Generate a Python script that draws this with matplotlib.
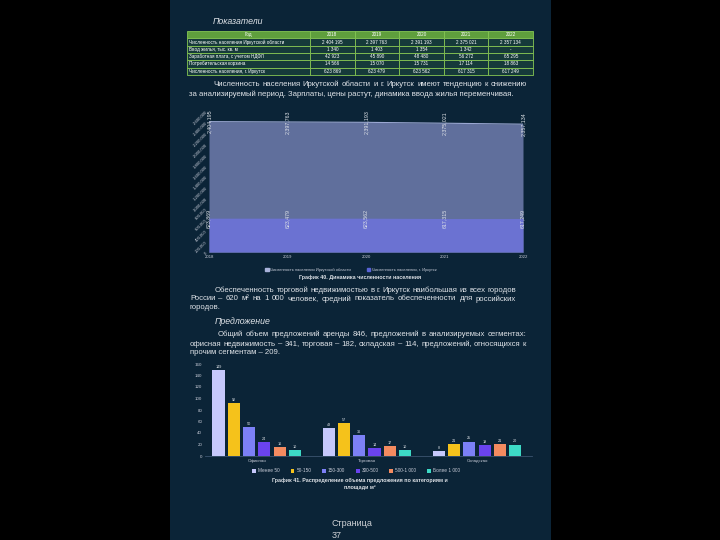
import matplotlib
matplotlib.use('Agg')
import matplotlib.pyplot as plt
from matplotlib.patches import Rectangle, Patch
from matplotlib.table import Table

plt.rcParams['font.family'] = ['Liberation Sans', 'DejaVu Sans']

# ---- data ----
years = ['2018', '2019', '2020', '2021', '2022']
row_labels = ['Численность населения Иркутской области', 'Ввод жилья, тыс. кв. м',
              'Заработная плата, с учетом НДФЛ', 'Потребительская корзина',
              'Численность населения, г. Иркутск']
pop_region_row = ['2 404 195', '2 397 763', '2 391 193', '2 375 021', '2 357 134']
housing_row = ['1 340', '1 403', '1 354', '1 342', '-']
salary_row = ['42 923', '45 890', '48 480', '56 272', '65 295']
basket_row = ['14 566', '15 070', '15 731', '17 114', '18 863']
pop_city_row = ['623 869', '623 479', '623 562', '617 315', '617 249']

oblast_pop = [2404195, 2397763, 2391193, 2375021, 2357134]
city_pop = [623869, 623479, 623562, 617315, 617249]

segments = ['Офисная', 'Торговая', 'Складская']
size_groups = ['Менее 50', '50-150', '150-300', '300-500', '500-1 000', 'Более 1 000']
less_50 = [149, 48, 8]
s50_150 = [92, 57, 21]
s150_300 = [50, 36, 25]
s300_500 = [24, 14, 19]
s500_1000 = [16, 17, 21]
more_1000 = [10, 10, 20]

W, H = 720, 540
PAGE = '#0b2437'
TXT = '#dfe3e8'


def fx(px):
    return px / W


def fy(py):
    return 1 - py / H


fig = plt.figure(figsize=(7.2, 5.4), dpi=100, facecolor='black')
fig.patches.append(Rectangle((fx(170), 0), fx(551) - fx(170), 1, transform=fig.transFigure,
                             facecolor=PAGE, edgecolor='none', zorder=-5))
renderer = fig.canvas.get_renderer()


def line(text, x0, y, size=5.6, x1=None, **kw):
    # x1 given -> stretch words to fill the line (justified text)
    if x1 is None:
        fig.text(fx(x0), fy(y), text, fontsize=size, color=TXT, va='center', **kw)
        return
    words = text.split()
    items = [fig.text(0, fy(y), w, fontsize=size, color=TXT, va='center', **kw) for w in words]
    widths = [t.get_window_extent(renderer).width for t in items]
    gap = (x1 - x0 - sum(widths)) / (len(words) - 1)
    x = x0
    for t, w in zip(items, widths):
        t.set_x(fx(x))
        x += w + gap


# ---- heading + table ----
line('Показатели', 213, 22, size=6.3, style='italic')

tax = fig.add_axes([fx(187), fy(75), (533 - 187) / W, (75 - 31) / H])
tax.axis('off')
tbl = Table(tax, bbox=[0, 0, 1, 1])
col_w = [123 / 346] + [44.6 / 346] * 5
rows = [['Год'] + years] + [[lab] + vals for lab, vals in zip(
    row_labels, [pop_region_row, housing_row, salary_row, basket_row, pop_city_row])]
for r, row in enumerate(rows):
    for c, val in enumerate(row):
        loc = 'left' if (c == 0 and r > 0) else 'center'
        face = '#5f9f3d' if r == 0 else '#163a3a'
        cell = tbl.add_cell(r, c, width=col_w[c], height=1 / 6, text=val, loc=loc,
                            facecolor=face, edgecolor='#86c653')
        cell.PAD = 0.02
        cell.set_linewidth(0.6)
        cell.get_text().set_color('white')
        cell.get_text().set_fontsize(3.3)
tbl.auto_set_font_size(False)
tax.add_table(tbl)

# ---- paragraph 1 ----
line('Численность населения Иркутской области и г. Иркутск имеют тенденцию к снижению', 213, 84, x1=527)
line('за анализируемый период. Зарплаты, цены растут, динамика ввода жилья переменчивая.', 189, 94)

# ---- area chart ----
ax = fig.add_axes([fx(209), fy(252), (523 - 209) / W, (252 - 111) / H])
ax.set_facecolor('none')
xs = range(len(years))
ax.fill_between(xs, oblast_pop, color='#606f9c', lw=0, zorder=1)
ax.plot(xs, oblast_pop, color='#9aa7d2', lw=0.8, zorder=2)
ax.fill_between(xs, city_pop, color='#6b72d2', lw=0, zorder=3)
ax.set_xlim(0, 4)
ax.set_ylim(0, 2600000)
ax.set_xticks(list(xs), years)
yt = list(range(0, 2600001, 200000))
ax.set_yticks(yt, [f'{v:,}' for v in yt])
ax.tick_params(axis='both', labelsize=3.1, colors='#c8ccd8', length=0, pad=2)
for lab in ax.get_yticklabels():
    lab.set_rotation(45)
    lab.set_ha('right')
    lab.set_rotation_mode('anchor')
for s in ['left', 'right', 'top']:
    ax.spines[s].set_visible(False)
ax.spines['bottom'].set_color('#56688c')
ax.spines['bottom'].set_linewidth(0.5)
for i in xs:
    ax.text(i, oblast_pop[i], f'{oblast_pop[i]:,}', rotation=90, ha='center', va='center',
            fontsize=3.8, color=TXT, zorder=5)
    ax.text(i, city_pop[i], f'{city_pop[i]:,}', rotation=90, ha='center', va='center',
            fontsize=3.8, color=TXT, zorder=5)

fig.legend([Patch(color='#a9b2da'), Patch(color='#5863d6')],
           ['Численность населения Иркутской области', 'Численность населения, г. Иркутск'],
           loc='center', bbox_to_anchor=(fx(351), fy(270)), ncol=2, frameon=False,
           fontsize=2.9, labelcolor='#c8ccd8', handlelength=0.8, handleheight=0.8,
           handletextpad=0.4, columnspacing=4)
fig.text(0.5, fy(277), 'График 40. Динамика численности населения', ha='center', va='center',
         fontsize=3.9, fontweight='bold', color=TXT)

# ---- paragraph 2 ----
line('Обеспеченность торговой недвижимостью в г. Иркутск наибольшая из всех городов', 215, 290, x1=516)
line('России – 620 м² на 1 000 человек, средний показатель обеспеченности для российских', 190, 299, x1=516)
line('городов.', 190, 307.5)
line('Предложение', 215, 321, size=6.3, style='italic')

# ---- paragraph 3 ----
line('Общий объем предложений аренды 846, предложений в анализируемых сегментах:', 218, 334, x1=526)
line('офисная недвижимость – 341, торговая – 182, складская – 114, предложений, относящихся к', 190, 344, x1=526)
line('прочим сегментам – 209.', 190, 353)

# chart picture sits over the last line
fig.patches.append(Rectangle((fx(187), fy(466)), fx(545) - fx(187), (466 - 357) / H,
                             transform=fig.transFigure, facecolor=PAGE, edgecolor='none', zorder=4))

# ---- bar chart ----
bx = fig.add_axes([fx(205), fy(456), (532 - 205) / W, (456 - 364) / H], zorder=5)
bx.set_facecolor('none')
series = [less_50, s50_150, s150_300, s300_500, s500_1000, more_1000]
colors = ['#c6c8fb', '#f5c21b', '#7c80f6', '#6a43ef', '#f48b60', '#3ddac6']
step = 0.139
for j, (vals, col, name) in enumerate(zip(series, colors, size_groups)):
    pos = [i + (j - 2.5) * step for i in range(len(segments))]
    bars = bx.bar(pos, vals, width=0.11, color=col, label=name, zorder=2)
    for b, v in zip(bars, vals):
        bx.text(b.get_x() + b.get_width() / 2, v + 2, str(v), ha='center', va='bottom',
                fontsize=2.7, color=TXT)
bx.set_xlim(-0.47, 2.5)
bx.set_ylim(0, 160)
bx.set_yticks(range(0, 161, 20))
bx.set_xticks(range(len(segments)), segments)
bx.tick_params(axis='both', labelsize=3.2, colors='#c8ccd8', length=0, pad=2)
for s in ['left', 'right', 'top']:
    bx.spines[s].set_visible(False)
bx.spines['bottom'].set_color('#3c5470')
bx.spines['bottom'].set_linewidth(0.6)

h, l = bx.get_legend_handles_labels()
fig.legend(h, l, loc='center', bbox_to_anchor=(fx(356), fy(471)), ncol=6, frameon=False,
           fontsize=3.4, labelcolor='#c8ccd8', handlelength=0.8, handleheight=0.8,
           handletextpad=0.4, columnspacing=2.3)
fig.text(0.5, fy(480), 'График 41. Распределение объема предложения по категориям и',
         ha='center', va='center', fontsize=3.9, fontweight='bold', color=TXT)
fig.text(0.5, fy(488), 'площади м²', ha='center', va='center', fontsize=3.9,
         fontweight='bold', color=TXT)

# ---- page footer ----
fig.text(fx(332), fy(523), 'Страница', fontsize=6.5, color='#cfd2d6', va='center')
fig.text(fx(332), fy(535), '37', fontsize=6.5, color='#cfd2d6', va='center')

fig.savefig('out.png', dpi=100, facecolor='black')
